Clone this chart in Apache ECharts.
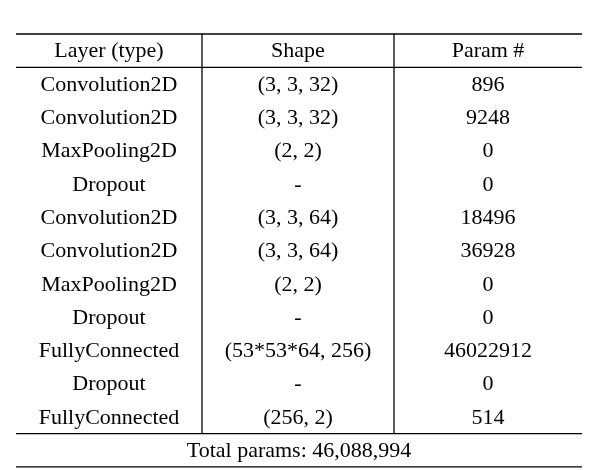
<!DOCTYPE html>
<html>
<head>
<meta charset="utf-8" />
<script src="https://cdn.jsdelivr.net/npm/echarts@6/dist/echarts.min.js"></script>
</head>
<body style="margin:0;background:#fff">
<div id="main" style="width:592px;height:470px;"></div>
<script>
// table content
const headers = ['Layer (type)', 'Shape', 'Param #'];
const layers = ['Convolution2D', 'Convolution2D', 'MaxPooling2D', 'Dropout', 'Convolution2D', 'Convolution2D',
  'MaxPooling2D', 'Dropout', 'FullyConnected', 'Dropout', 'FullyConnected'];
const shapes = ['(3, 3, 32)', '(3, 3, 32)', '(2, 2)', '-', '(3, 3, 64)', '(3, 3, 64)',
  '(2, 2)', '-', '(53*53*64, 256)', '-', '(256, 2)'];
const params = ['896', '9248', '0', '0', '18496', '36928', '0', '0', '46022912', '0', '514'];
const totalText = 'Total params: 46,088,994';

const chart = echarts.init(document.getElementById('main'));
const tLeft = 16, tRight = 582, tTop = 34, rowH = 33.3;
const colX = [16, 202, 394, 582];
const font = '22px "Liberation Serif", "DejaVu Serif", serif';
const els = [];

function text(x, y, s) {
  els.push({ type: 'text', x: x, y: y, style: { text: s, font: font, fill: '#000', align: 'center', verticalAlign: 'middle' } });
}
function line(x1, y1, x2, y2) {
  els.push({ type: 'line', shape: { x1: x1, y1: y1, x2: x2, y2: y2 }, style: { stroke: '#000', lineWidth: 1.3 } });
}

const cols = [layers, shapes, params];
const nRows = layers.length + 1;
headers.forEach((h, c) => text((colX[c] + colX[c + 1]) / 2, tTop + rowH / 2 + 1, h));
for (let r = 0; r < layers.length; r++) {
  const y = tTop + rowH * (r + 1) + rowH / 2 + 1;
  cols.forEach((col, c) => text((colX[c] + colX[c + 1]) / 2, y, col[r]));
}
const tableBottom = tTop + rowH * nRows;
text((tLeft + tRight) / 2, tableBottom + rowH / 2 + 1, totalText);

line(tLeft, tTop, tRight, tTop);
line(tLeft, tTop + rowH, tRight, tTop + rowH);
line(tLeft, tableBottom, tRight, tableBottom);
line(tLeft, tableBottom + rowH, tRight, tableBottom + rowH);
line(colX[1], tTop, colX[1], tableBottom);
line(colX[2], tTop, colX[2], tableBottom);

chart.setOption({ animation: false, graphic: { elements: els } });
</script>
</body>
</html>
